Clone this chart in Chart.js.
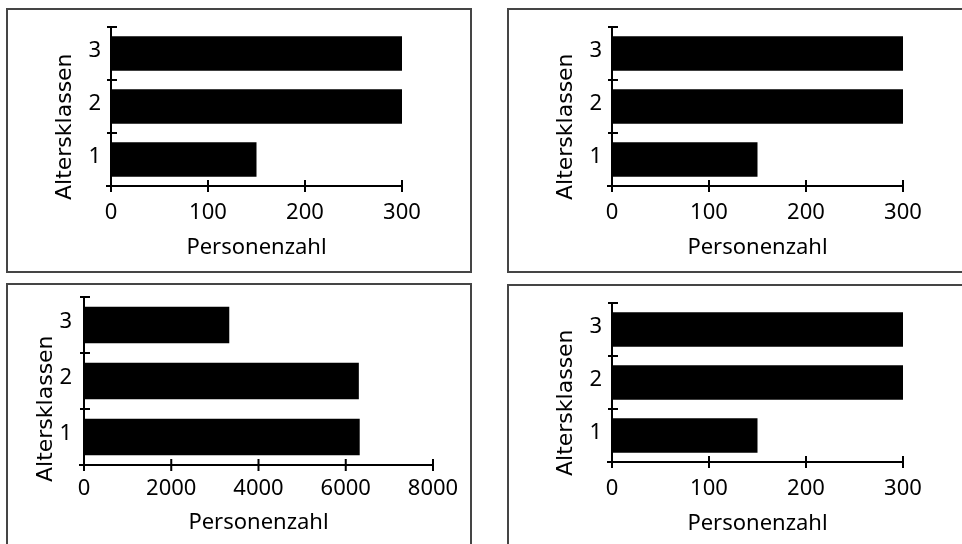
<!DOCTYPE html>
<html>
<head>
<meta charset="utf-8">
<script src="https://cdn.jsdelivr.net/npm/chart.js@4.4.0/dist/chart.umd.min.js"></script>
<style>
  html, body { margin: 0; padding: 0; background: #fff; overflow: hidden; }
  body { width: 962px; height: 544px; position: relative; }
  .panel { position: absolute; border: 2px solid #454545; box-sizing: border-box; background: #fff; }
  .panel canvas { position: absolute; left: 0; top: 0; }
</style>
</head>
<body>
<div class="panel" style="left:6px;top:8px;width:466px;height:265px"><canvas id="chartA" width="462" height="261"></canvas></div>
<div class="panel" style="left:507px;top:8px;width:466px;height:265px"><canvas id="chartB" width="462" height="261"></canvas></div>
<div class="panel" style="left:6px;top:283px;width:466px;height:265px"><canvas id="chartC" width="462" height="261"></canvas></div>
<div class="panel" style="left:507px;top:284px;width:466px;height:265px"><canvas id="chartD" width="462" height="261"></canvas></div>

<script>
// Data (age classes 1..3, bottom to top)
const ageClasses = ['1', '2', '3'];
const countsTopLeft = [150, 300, 300];
const countsTopRight = [150, 300, 300];
const countsBottomLeft = [6320, 6300, 3330];
const countsBottomRight = [150, 300, 300];
const ticksSmall = [0, 100, 200, 300];
const ticksLarge = [0, 2000, 4000, 6000, 8000];
const xTitle = 'Personenzahl';
const yTitle = 'Altersklassen';

// Layout per panel (pixels inside the panel's canvas)
const layoutNarrow = { yW: 103, top: 17, right: 68, xH: 85, tickPad: 14, yTickPad: 10, titleX: 63, titleStart: 190 };
const layoutWide = { yW: 76, top: 12, right: 37, xH: 81, tickPad: 11, yTickPad: 12, titleX: 44, titleStart: 197 };

/**
 * Draws the axis lines with ticks crossing them, plus the rotated y title
 */
const axisFrame = {
  id: 'axisFrame',
  afterDatasetsDraw(chart, args, opts) {
    const { ctx, chartArea: a, scales: { x, y } } = chart;
    ctx.save();
    ctx.strokeStyle = '#000';
    ctx.lineWidth = 2;
    ctx.beginPath();
    // y axis
    ctx.moveTo(a.left, a.top);
    ctx.lineTo(a.left, a.bottom);
    // x axis
    ctx.moveTo(a.left - 5, a.bottom);
    ctx.lineTo(a.right + 1, a.bottom);
    // x ticks
    x.ticks.forEach(t => {
      const px = x.getPixelForValue(t.value);
      ctx.moveTo(px, a.bottom - 6);
      ctx.lineTo(px, a.bottom + 6);
    });
    // y ticks on category boundaries
    const bounds = [a.top];
    for (let i = 0; i < y.ticks.length - 1; i++) {
      bounds.push((y.getPixelForValue(i) + y.getPixelForValue(i + 1)) / 2);
    }
    bounds.forEach(py => {
      ctx.moveTo(a.left - 4, py);
      ctx.lineTo(a.left + 6, py);
    });
    ctx.stroke();

    // rotated y title
    ctx.translate(opts.titleX, opts.titleStart);
    ctx.rotate(-Math.PI / 2);
    ctx.fillStyle = '#000';
    ctx.font = '22px "DejaVu Sans"';
    ctx.textAlign = 'left';
    ctx.textBaseline = 'alphabetic';
    ctx.fillText(opts.text, 0, 0);
    ctx.restore();
  }
};

function makeChart(id, values, xTicks, lay) {
  const ctx = document.getElementById(id).getContext('2d');
  return new Chart(ctx, {
    type: 'bar',
    data: {
      labels: ageClasses,
      datasets: [{
        data: values,
        backgroundColor: '#000',
        borderWidth: 0,
        barPercentage: 0.65,
        categoryPercentage: 1
      }]
    },
    options: {
      indexAxis: 'y',
      responsive: false,
      animation: false,
      devicePixelRatio: 1,
      layout: { padding: { top: lay.top, right: lay.right, left: 0, bottom: 0 } },
      plugins: {
        legend: { display: false },
        tooltip: { enabled: false },
        axisFrame: { titleX: lay.titleX, titleStart: lay.titleStart, text: yTitle }
      },
      scales: {
        x: {
          type: 'linear',
          min: xTicks[0],
          max: xTicks[xTicks.length - 1],
          grid: { display: false, drawTicks: false },
          border: { display: false },
          ticks: {
            stepSize: xTicks[1] - xTicks[0],
            color: '#000',
            padding: lay.tickPad,
            font: { family: '"Noto Sans"', size: 22 },
            callback: v => String(v)
          },
          title: {
            display: true,
            text: xTitle,
            color: '#000',
            font: { family: '"Noto Sans"', size: 22 },
            padding: { top: 0, bottom: 10 }
          },
          afterFit: s => { s.height = lay.xH; }
        },
        y: {
          reverse: true,
          grid: { display: false, drawTicks: false },
          border: { display: false },
          ticks: {
            color: '#000',
            crossAlign: 'center',
            padding: lay.yTickPad,
            labelOffset: -3,
            font: { family: '"Noto Sans"', size: 22 }
          },
          afterFit: s => {
            s.width = lay.yW;
            // keep the plot top where the layout puts it
            s.paddingTop = 0;
            s.paddingBottom = 0;
          }
        }
      }
    },
    plugins: [axisFrame]
  });
}

makeChart('chartA', countsTopLeft, ticksSmall, layoutNarrow);
makeChart('chartB', countsTopRight, ticksSmall, layoutNarrow);
makeChart('chartC', countsBottomLeft, ticksLarge, layoutWide);
makeChart('chartD', countsBottomRight, ticksSmall, layoutNarrow);
</script>
</body>
</html>
